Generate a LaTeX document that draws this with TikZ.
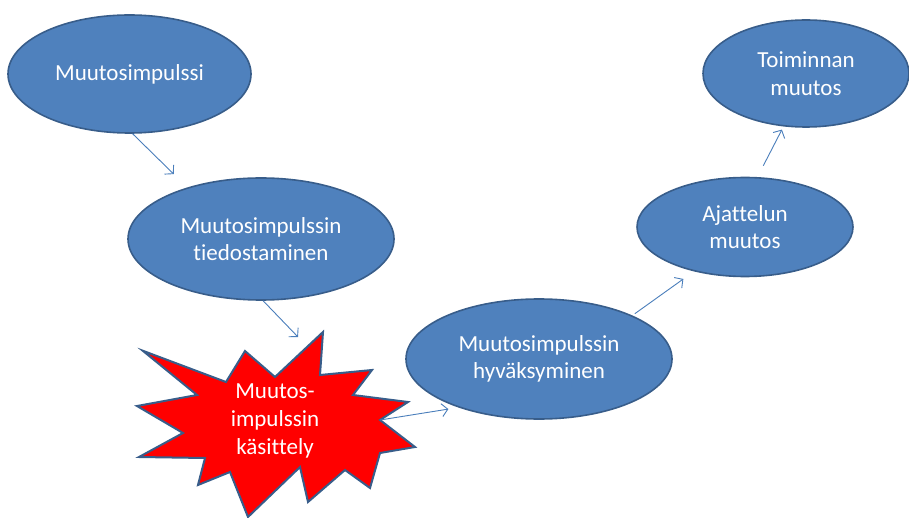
\documentclass[tikz,border=0pt]{standalone}
\usepackage{fontspec}
\setmainfont[Ligatures=NoCommon]{Carlito}
\usetikzlibrary{shapes.geometric,arrows.meta}
\definecolor{bubble}{HTML}{4F81BD}
\definecolor{bubbleline}{HTML}{385D8A}
\definecolor{flowline}{HTML}{4A7EBB}
\tikzset{
  bubble/.style={ellipse, fill=bubble, draw=bubbleline, line width=1.6pt,
    inner sep=0pt, text=white, align=center,
    font=\fontsize{23}{27.5}\selectfont},
  flow/.style={draw=flowline, line width=0.9pt,
    -{Straight Barb[length=6pt,width=13pt,line width=0.9pt]}},
  burst/.style={fill=red, draw=bubbleline, line width=2pt, line join=miter},
  bursttext/.style={text=white, align=center, font=\fontsize{23}{28}\selectfont}
}
\begin{document}
\begin{tikzpicture}[x=1pt,y=-1pt]
\useasboundingbox (0,0) rectangle (909,518);

% stages of change as ellipses
\node[bubble, minimum width=243pt, minimum height=118pt] (e1) at (129.5,74) {Muutosimpulssi};
\node[bubble, minimum width=266pt, minimum height=122pt] (e2) at (261,239) {Muutosimpulssin\\tiedostaminen};
\node[bubble, minimum width=266pt, minimum height=120pt] (e3) at (539,359) {Muutosimpulssin\\hyväksyminen};
\node[bubble, minimum width=216pt, minimum height=99pt] (e4) at (745,227) {Ajattelun\\muutos};
\node[bubble, minimum width=206pt, minimum height=107pt] (e5) at (806,73.5) {Toiminnan\\muutos};

% starburst outline points
\coordinate (s1) at (142.7,350.7);
\coordinate (s2) at (226,382);
\coordinate (s3) at (245,351);
\coordinate (s4) at (275,377);
\coordinate (s5) at (323,332);
\coordinate (s6) at (320,375);
\coordinate (s7) at (372,370);
\coordinate (s8) at (353,395);
\coordinate (s9) at (408,402);
\coordinate (s10) at (380,420);
\coordinate (s11) at (415,447);
\coordinate (s12) at (380,453);
\coordinate (s13) at (370,488);
\coordinate (s14) at (345,470);
\coordinate (s15) at (308,502);
\coordinate (s16) at (300,467);
\coordinate (s17) at (248,517);
\coordinate (s18) at (230,472);
\coordinate (s19) at (198,485);
\coordinate (s20) at (205,458);
\coordinate (s21) at (139,457);
\coordinate (s22) at (183,433);
\coordinate (s23) at (137,406);
\coordinate (s24) at (197,395);
\draw[burst] (s1) -- (s2) -- (s3) -- (s4) -- (s5) -- (s6) -- (s7) -- (s8)
  -- (s9) -- (s10) -- (s11) -- (s12) -- (s13) -- (s14) -- (s15) -- (s16)
  -- (s17) -- (s18) -- (s19) -- (s20) -- (s21) -- (s22) -- (s23) -- (s24) -- cycle;
\node[bursttext] (burst) at (275,421) {Muutos-\\impulssin\\käsittely};
\coordinate (burstin) at (298,337);

% connectors
\draw[flow] (e1.-87) -- (e2.145) [shorten >=19pt];
\draw[flow] (e2.-88) -- (burstin);
\draw[flow, shorten >=10pt] (s10) -- (e3.211);
\draw[flow, shorten <=3pt, shorten >=13pt] (e3.25) -- (e4.221);
\draw[flow, shorten <=12.7pt, shorten >=3.5pt] (e4.76) -- (e5.247);
\end{tikzpicture}
\end{document}
